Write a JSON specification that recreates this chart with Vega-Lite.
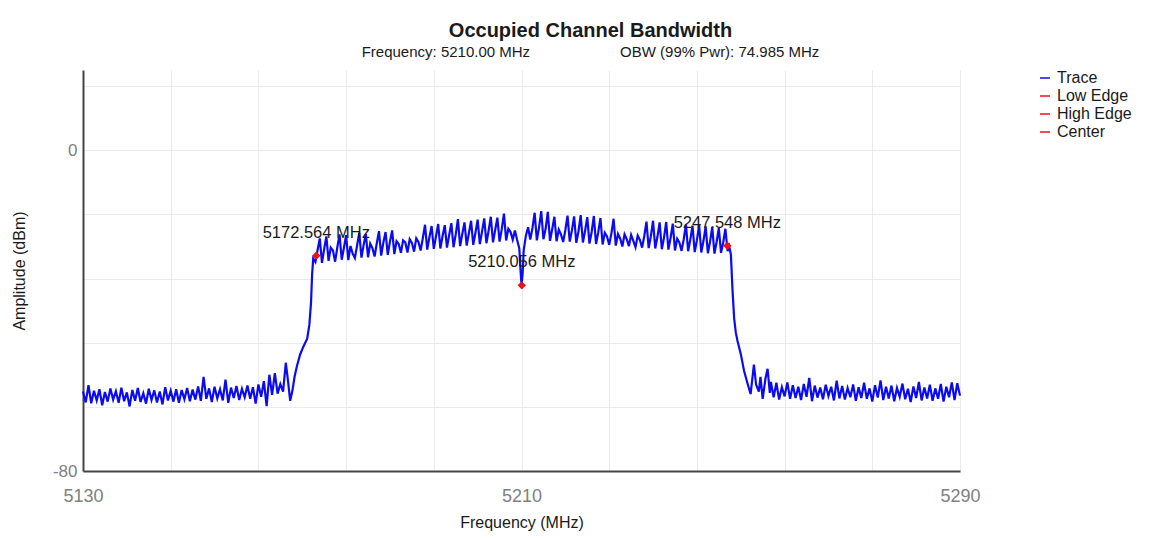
{
  "$schema": "https://vega.github.io/schema/vega-lite/v6.json",
  "autosize": {"type": "none"},
  "padding": {"left": 83, "top": 70, "right": 207, "bottom": 69},
  "width": 877,
  "height": 401,
  "config": {"font": "Liberation Sans", "view": {"stroke": null}},
  "title": {"text": "Occupied Channel Bandwidth", "fontSize": 20, "fontWeight": "bold", "color": "#1a1a1a", "anchor": "middle", "dx": 69, "offset": 10,
    "subtitle": "Frequency: 5210.00 MHz\u2003\u2003\u2003\u2003\u2003\u2003OBW (99% Pwr): 74.985 MHz", "subtitleFontSize": 15, "subtitleColor": "#1a1a1a", "subtitlePadding": 4},
  "datasets": {
    "trace": [
      {"f":5130,"a":-60.2},{"f":5130.5,"a":-62.9},{"f":5131,"a":-58.6},{"f":5131.5,"a":-63.1},{"f":5132,"a":-60.0},{"f":5132.5,"a":-62.4},{"f":5133,"a":-59.6},{"f":5133.5,"a":-63.6},{"f":5134,"a":-60.3},{"f":5134.5,"a":-62.7},
      {"f":5135,"a":-59.4},{"f":5135.5,"a":-62.2},{"f":5136,"a":-60.1},{"f":5136.5,"a":-63.0},{"f":5137,"a":-59.2},{"f":5137.5,"a":-62.6},{"f":5138,"a":-60.4},{"f":5138.5,"a":-63.9},{"f":5139,"a":-59.8},{"f":5139.5,"a":-62.5},
      {"f":5140,"a":-59.3},{"f":5140.5,"a":-62.8},{"f":5141,"a":-60.6},{"f":5141.5,"a":-63.2},{"f":5142,"a":-59.5},{"f":5142.5,"a":-62.3},{"f":5143,"a":-59.9},{"f":5143.5,"a":-62.9},{"f":5144,"a":-60.2},{"f":5144.5,"a":-63.4},
      {"f":5145,"a":-59.1},{"f":5145.5,"a":-62.4},{"f":5146,"a":-60.0},{"f":5146.5,"a":-62.7},{"f":5147,"a":-59.6},{"f":5147.5,"a":-63.0},{"f":5148,"a":-59.8},{"f":5148.5,"a":-62.1},{"f":5149,"a":-59.3},{"f":5149.5,"a":-62.6},
      {"f":5150,"a":-59.7},{"f":5150.5,"a":-62.2},{"f":5151,"a":-58.9},{"f":5151.5,"a":-62.5},{"f":5152,"a":-56.5},{"f":5152.5,"a":-62.0},{"f":5153,"a":-59.4},{"f":5153.5,"a":-62.8},{"f":5154,"a":-59.0},{"f":5154.5,"a":-61.9},
      {"f":5155,"a":-59.6},{"f":5155.5,"a":-62.4},{"f":5156,"a":-57.2},{"f":5156.5,"a":-63.0},{"f":5157,"a":-59.2},{"f":5157.5,"a":-61.8},{"f":5158,"a":-58.8},{"f":5158.5,"a":-62.3},{"f":5159,"a":-59.5},{"f":5159.5,"a":-61.6},
      {"f":5160,"a":-58.7},{"f":5160.5,"a":-62.0},{"f":5161,"a":-59.1},{"f":5161.5,"a":-63.2},{"f":5162,"a":-58.4},{"f":5162.5,"a":-61.5},{"f":5163,"a":-57.6},{"f":5163.5,"a":-63.8},{"f":5164,"a":-56.0},{"f":5164.5,"a":-61.0},
      {"f":5165,"a":-55.6},{"f":5165.5,"a":-60.7},{"f":5166,"a":-58.3},{"f":5166.5,"a":-60.2},{"f":5167,"a":-53.0},{"f":5167.4,"a":-57.5},{"f":5167.8,"a":-62.5},{"f":5168.2,"a":-60.0},{"f":5168.6,"a":-56.5},{"f":5169,"a":-54.0},
      {"f":5169.6,"a":-51.0},{"f":5170.2,"a":-49.0},{"f":5170.9,"a":-47.0},{"f":5171.3,"a":-43.5},{"f":5171.6,"a":-38.0},{"f":5171.8,"a":-31.0},{"f":5172,"a":-27.0},
      {"f":5172.4,"a":-27.9},{"f":5172.8,"a":-24.9},{"f":5173.2,"a":-22.0},{"f":5173.6,"a":-28.1},{"f":5174.0,"a":-24.6},{"f":5174.4,"a":-21.5},{"f":5174.8,"a":-27.6},{"f":5175.2,"a":-24.3},{"f":5175.6,"a":-25.0},
      {"f":5176.0,"a":-27.8},{"f":5176.4,"a":-24.2},{"f":5176.8,"a":-21.0},{"f":5177.2,"a":-27.3},{"f":5177.6,"a":-24.4},{"f":5178.0,"a":-21.2},{"f":5178.4,"a":-27.4},{"f":5178.8,"a":-23.9},{"f":5179.2,"a":-25.8},
      {"f":5179.6,"a":-26.9},{"f":5180.0,"a":-23.8},{"f":5180.4,"a":-20.6},{"f":5180.8,"a":-26.8},{"f":5181.2,"a":-23.6},{"f":5181.6,"a":-20.9},{"f":5182.0,"a":-26.7},{"f":5182.4,"a":-23.3},{"f":5182.8,"a":-24.4},
      {"f":5183.2,"a":-26.5},{"f":5183.6,"a":-23.2},{"f":5184.0,"a":-20.2},{"f":5184.4,"a":-26.3},{"f":5184.8,"a":-23.0},{"f":5185.2,"a":-20.4},{"f":5185.6,"a":-26.1},{"f":5186.0,"a":-22.8},{"f":5186.4,"a":-20.0},
      {"f":5186.8,"a":-25.9},{"f":5187.2,"a":-22.7},{"f":5187.6,"a":-23.4},{"f":5188.0,"a":-25.6},{"f":5188.4,"a":-22.5},{"f":5188.8,"a":-23.0},{"f":5189.2,"a":-25.5},{"f":5189.6,"a":-22.2},{"f":5190.0,"a":-23.1},
      {"f":5190.4,"a":-25.3},{"f":5190.8,"a":-22.0},{"f":5191.2,"a":-22.9},{"f":5191.6,"a":-25.0},{"f":5192.0,"a":-21.9},{"f":5192.4,"a":-18.6},{"f":5192.8,"a":-24.8},{"f":5193.2,"a":-21.7},{"f":5193.6,"a":-18.9},
      {"f":5194.0,"a":-24.6},{"f":5194.4,"a":-21.5},{"f":5194.8,"a":-18.4},{"f":5195.2,"a":-24.5},{"f":5195.6,"a":-21.4},{"f":5196.0,"a":-18.7},{"f":5196.4,"a":-24.3},{"f":5196.8,"a":-21.2},{"f":5197.2,"a":-18.2},
      {"f":5197.6,"a":-24.2},{"f":5198.0,"a":-21.0},{"f":5198.4,"a":-17.2},{"f":5198.8,"a":-23.9},{"f":5199.2,"a":-20.9},{"f":5199.6,"a":-18.0},{"f":5200.0,"a":-23.8},{"f":5200.4,"a":-20.7},{"f":5200.8,"a":-17.6},
      {"f":5201.2,"a":-23.6},{"f":5201.6,"a":-20.6},{"f":5202.0,"a":-17.3},{"f":5202.4,"a":-23.4},{"f":5202.8,"a":-20.3},{"f":5203.2,"a":-17.0},{"f":5203.6,"a":-23.2},{"f":5204.0,"a":-20.1},{"f":5204.4,"a":-16.6},
      {"f":5204.8,"a":-23.0},{"f":5205.2,"a":-19.9},{"f":5205.6,"a":-16.8},{"f":5206.0,"a":-22.8},{"f":5206.4,"a":-19.7},{"f":5206.8,"a":-15.8},{"f":5207.2,"a":-22.5},{"f":5207.6,"a":-19.6},{"f":5208.0,"a":-20.4},
      {"f":5208.4,"a":-22.3},{"f":5208.8,"a":-20.0},{"f":5209.2,"a":-22.4},{"f":5209.6,"a":-24.5},{"f":5209.8,"a":-29.5},{"f":5210.0,"a":-33.5},{"f":5210.2,"a":-31.0},{"f":5210.4,"a":-25.0},{"f":5210.8,"a":-21.3},
      {"f":5211.2,"a":-19.2},{"f":5211.6,"a":-22.3},{"f":5212.0,"a":-19.4},{"f":5212.4,"a":-15.6},{"f":5212.8,"a":-22.5},{"f":5213.2,"a":-19.3},{"f":5213.6,"a":-15.2},{"f":5214.0,"a":-22.2},{"f":5214.4,"a":-19.6},
      {"f":5214.8,"a":-15.4},{"f":5215.2,"a":-22.6},{"f":5215.6,"a":-19.7},{"f":5216.0,"a":-16.6},{"f":5216.4,"a":-22.7},{"f":5216.8,"a":-19.8},{"f":5217.2,"a":-21.0},{"f":5217.6,"a":-22.9},{"f":5218.0,"a":-19.9},
      {"f":5218.4,"a":-16.3},{"f":5218.8,"a":-22.8},{"f":5219.2,"a":-20.0},{"f":5219.6,"a":-16.5},{"f":5220.0,"a":-23.1},{"f":5220.4,"a":-20.2},{"f":5220.8,"a":-16.2},{"f":5221.2,"a":-23.0},{"f":5221.6,"a":-20.1},
      {"f":5222.0,"a":-16.7},{"f":5222.4,"a":-23.3},{"f":5222.8,"a":-20.4},{"f":5223.2,"a":-16.4},{"f":5223.6,"a":-23.4},{"f":5224.0,"a":-20.5},{"f":5224.4,"a":-16.9},{"f":5224.8,"a":-23.5},{"f":5225.2,"a":-20.6},
      {"f":5225.6,"a":-21.5},{"f":5226.0,"a":-23.6},{"f":5226.4,"a":-20.8},{"f":5226.8,"a":-17.1},{"f":5227.2,"a":-23.8},{"f":5227.6,"a":-20.9},{"f":5228.0,"a":-22.0},{"f":5228.4,"a":-24.0},{"f":5228.8,"a":-21.0},
      {"f":5229.2,"a":-22.2},{"f":5229.6,"a":-23.9},{"f":5230.0,"a":-21.1},{"f":5230.4,"a":-22.6},{"f":5230.8,"a":-24.2},{"f":5231.2,"a":-21.3},{"f":5231.6,"a":-22.4},{"f":5232.0,"a":-24.3},{"f":5232.4,"a":-21.4},
      {"f":5232.8,"a":-17.8},{"f":5233.2,"a":-24.4},{"f":5233.6,"a":-21.5},{"f":5234.0,"a":-17.6},{"f":5234.4,"a":-24.5},{"f":5234.8,"a":-21.6},{"f":5235.2,"a":-18.0},{"f":5235.6,"a":-24.7},{"f":5236.0,"a":-21.8},
      {"f":5236.4,"a":-17.9},{"f":5236.8,"a":-24.8},{"f":5237.2,"a":-21.9},{"f":5237.6,"a":-18.3},{"f":5238.0,"a":-25.0},{"f":5238.4,"a":-22.1},{"f":5238.8,"a":-23.0},{"f":5239.2,"a":-25.1},{"f":5239.6,"a":-22.2},
      {"f":5240.0,"a":-18.5},{"f":5240.4,"a":-25.2},{"f":5240.8,"a":-22.3},{"f":5241.2,"a":-18.8},{"f":5241.6,"a":-25.4},{"f":5242.0,"a":-22.5},{"f":5242.4,"a":-18.6},{"f":5242.8,"a":-25.5},{"f":5243.2,"a":-22.6},
      {"f":5243.6,"a":-19.0},{"f":5244.0,"a":-25.7},{"f":5244.4,"a":-22.8},{"f":5244.8,"a":-19.2},{"f":5245.2,"a":-25.8},{"f":5245.6,"a":-22.9},{"f":5246.0,"a":-19.4},{"f":5246.4,"a":-25.6},{"f":5246.8,"a":-23.0},
      {"f":5247.2,"a":-19.6},{"f":5247.6,"a":-25.2},{"f":5247.9,"a":-24.0},
      {"f":5248.2,"a":-26.0},{"f":5248.5,"a":-35.0},{"f":5248.8,"a":-42.0},{"f":5249.1,"a":-45.5},{"f":5249.4,"a":-47.5},{"f":5250.0,"a":-50.8},{"f":5250.6,"a":-55.0},{"f":5251.2,"a":-58.0},{"f":5251.8,"a":-60.8},
      {"f":5252.4,"a":-53.5},{"f":5252.8,"a":-58.5},{"f":5253.3,"a":-60.2},{"f":5253.6,"a":-56.5},{"f":5254.0,"a":-62.0},{"f":5254.5,"a":-57.0},{"f":5254.9,"a":-54.5},{"f":5255.3,"a":-60.5},
      {"f":5255.5,"a":-57.8},{"f":5256,"a":-61.6},{"f":5256.5,"a":-58.0},{"f":5257,"a":-62.2},{"f":5257.5,"a":-59.1},{"f":5258,"a":-61.4},{"f":5258.5,"a":-57.9},{"f":5259,"a":-62.0},{"f":5259.5,"a":-58.6},{"f":5260,"a":-61.8},
      {"f":5260.5,"a":-59.0},{"f":5261,"a":-62.3},{"f":5261.5,"a":-58.3},{"f":5262,"a":-61.5},{"f":5262.5,"a":-56.8},{"f":5263,"a":-62.6},{"f":5263.5,"a":-58.7},{"f":5264,"a":-61.7},{"f":5264.5,"a":-59.2},{"f":5265,"a":-62.1},
      {"f":5265.5,"a":-58.5},{"f":5266,"a":-61.3},{"f":5266.5,"a":-59.0},{"f":5267,"a":-62.4},{"f":5267.5,"a":-57.5},{"f":5268,"a":-61.9},{"f":5268.5,"a":-58.8},{"f":5269,"a":-62.2},{"f":5269.5,"a":-59.3},{"f":5270,"a":-61.6},
      {"f":5270.5,"a":-58.4},{"f":5271,"a":-62.5},{"f":5271.5,"a":-59.1},{"f":5272,"a":-61.8},{"f":5272.5,"a":-58.0},{"f":5273,"a":-62.0},{"f":5273.5,"a":-59.4},{"f":5274,"a":-62.7},{"f":5274.5,"a":-58.6},{"f":5275,"a":-61.7},
      {"f":5275.5,"a":-57.4},{"f":5276,"a":-62.3},{"f":5276.5,"a":-59.0},{"f":5277,"a":-61.9},{"f":5277.5,"a":-58.7},{"f":5278,"a":-62.6},{"f":5278.5,"a":-59.3},{"f":5279,"a":-61.5},{"f":5279.5,"a":-58.2},{"f":5280,"a":-62.1},
      {"f":5280.5,"a":-59.5},{"f":5281,"a":-62.8},{"f":5281.5,"a":-58.9},{"f":5282,"a":-61.8},{"f":5282.5,"a":-57.8},{"f":5283,"a":-62.4},{"f":5283.5,"a":-59.2},{"f":5284,"a":-61.9},{"f":5284.5,"a":-58.5},{"f":5285,"a":-62.5},
      {"f":5285.5,"a":-59.4},{"f":5286,"a":-62.0},{"f":5286.5,"a":-58.3},{"f":5287,"a":-62.7},{"f":5287.5,"a":-59.0},{"f":5288,"a":-61.6},{"f":5288.5,"a":-57.9},{"f":5289,"a":-62.3},{"f":5289.5,"a":-58.1},{"f":5290,"a":-61.2}
    ],
    "markers": [
      {"f":5172.564,"a":-26.3,"series":"Low Edge","label":"5172.564 MHz"},
      {"f":5247.548,"a":-23.8,"series":"High Edge","label":"5247.548 MHz"},
      {"f":5210.056,"a":-33.7,"series":"Center","label":"5210.056 MHz"}
    ]
  },
  "layer": [
    {
      "data": {"name": "trace"},
      "mark": {"type": "line", "strokeWidth": 2.2},
      "encoding": {
        "x": {"field": "f", "type": "quantitative", "scale": {"domain": [5130, 5290], "nice": false, "zero": false},
          "axis": {"values": [5130,5146,5162,5178,5194,5210,5226,5242,5258,5274,5290],
            "labelExpr": "(datum.value - 5130) % 80 == 0 ? '' + datum.value : ''",
            "labelFlush": false, "labelOverlap": false, "ticks": false,
            "grid": true, "gridColor": "#ebebeb",
            "domainColor": "#444444", "domainWidth": 2,
            "labelColor": "#808080", "labelFontSize": 18, "labelPadding": 16,
            "title": "Frequency (MHz)", "titleFontSize": 16, "titleFontWeight": "normal", "titleColor": "#1a1a1a", "titlePadding": 9}},
        "y": {"field": "a", "type": "quantitative", "scale": {"domain": [-80, 20], "nice": false, "zero": false},
          "axis": {"values": [-80,-76,-72,-68,-64,-60,-56,-52,-48,-44,-40,-36,-32,-28,-24,-20,-16,-12,-8,-4,0,4,8,12,16,20],
            "labelExpr": "datum.value % 20 == 0 ? '' + datum.value : ''",
            "labelOverlap": false, "ticks": false,
            "grid": true, "gridColor": "#ebebeb",
            "domainColor": "#444444", "domainWidth": 2,
            "labelColor": "#808080", "labelFontSize": 17, "labelPadding": 6,
            "title": "Amplitude (dBm)", "titleFontSize": 16, "titleFontWeight": "normal", "titleColor": "#1a1a1a", "titlePadding": 25}},
        "color": {"datum": "Trace", "type": "nominal",
          "scale": {"domain": ["Trace", "Low Edge", "High Edge", "Center"], "range": ["#0b0bf2", "#ee1111", "#ee1111", "#ee1111"]},
          "legend": {"orient": "right", "offset": 77, "title": null, "labelFontSize": 16, "labelColor": "#1a1a1a"}
        }
      }
    },
    {
      "data": {"name": "markers"},
      "mark": {"type": "point", "filled": true, "size": 70, "opacity": 1, "shape": "diamond"},
      "encoding": {
        "x": {"field": "f", "type": "quantitative"},
        "y": {"field": "a", "type": "quantitative"},
        "color": {"field": "series", "type": "nominal", "legend": {"title": null}}
      }
    },
    {
      "data": {"name": "markers"},
      "mark": {"type": "text", "dy": -23, "fontSize": 16.5, "color": "#1a1a1a"},
      "encoding": {
        "x": {"field": "f", "type": "quantitative"},
        "y": {"field": "a", "type": "quantitative"},
        "text": {"field": "label", "type": "nominal"}
      }
    }
  ]
}
